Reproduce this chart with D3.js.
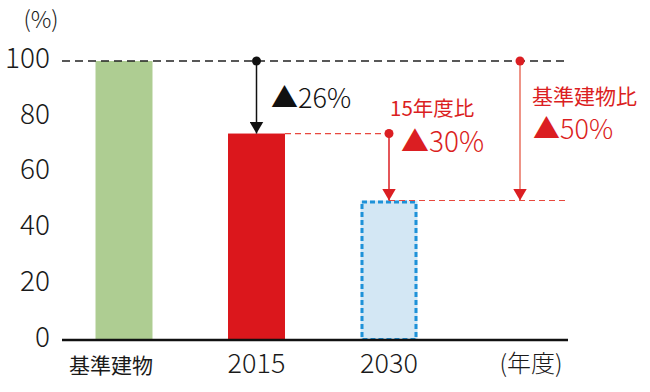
<!DOCTYPE html>
<html><head><meta charset="utf-8">
<script src="https://cdn.jsdelivr.net/npm/d3@7"></script>
<style>body{margin:0;background:#fff}svg{display:block}text{font-family:"Noto Sans CJK JP","Noto Sans",sans-serif;font-weight:300}text.cjk{font-weight:400}</style>
</head><body><svg id="c" width="650" height="392"></svg>
<script>
const categories = ["基準建物", "2015", "2030"];
const values = [100, 74, 50];
const yTicks = [0, 20, 40, 60, 80, 100];
const yUnit = "(%)";
const xUnit = "(年度)";
const ann26 = "▲26%";
const ann15a = "15年度比", ann15b = "▲30%";
const annBa = "基準建物比", annBb = "▲50%";

const svg = d3.select("#c");
const y = d3.scaleLinear().domain([0, 100]).range([340, 61]);
const x = d3.scaleBand().domain(categories).range([57.75, 455.25]).paddingInner(0.57).paddingOuter(0.285);
const cx = c => x(c) + x.bandwidth() / 2;
const red = "#db1e22", redL = "#e8483e";

const defs = svg.append("defs");
function marker(id, col) {
  defs.append("marker").attr("id", id).attr("viewBox", "0 0 14 12").attr("refX", 7).attr("refY", 12)
    .attr("markerWidth", 14).attr("markerHeight", 12).attr("markerUnits", "userSpaceOnUse").attr("orient", "0")
    .append("path").attr("d", "M0,0L14,0L7,12Z").attr("fill", col);
}
marker("ab", "#111"); marker("ar", red);

// y tick labels
svg.append("g").selectAll("text").data(yTicks).join("text")
  .attr("x", 50).attr("y", d => y(d)).attr("dy", "0.24em").attr("text-anchor", "end")
  .attr("font-size", 28).attr("fill", "#1a1a1a").text(d => d);
svg.append("text").attr("x", 41).attr("y", 28).attr("text-anchor", "middle").attr("font-size", 23).attr("fill", "#1a1a1a").text(yUnit);

// bars
const fills = ["#aecd92", "#db171c", "#d3e7f4"];
svg.append("g").selectAll("rect").data(values).join("rect")
  .attr("x", (d, i) => x(categories[i])).attr("width", x.bandwidth())
  .attr("y", d => y(d)).attr("height", d => y(0) - y(d))
  .attr("fill", (d, i) => fills[i]);
// dashed border for 2030
svg.append("rect").attr("x", x("2030") + 1.5).attr("y", y(values[2]) + 1.5)
  .attr("width", x.bandwidth() - 3).attr("height", y(0) - y(values[2]) - 2)
  .attr("fill", "none").attr("stroke", "#1e92d8").attr("stroke-width", 3).attr("stroke-dasharray", "5,3");

// reference lines
svg.append("line").attr("x1", 62).attr("x2", 568).attr("y1", y(100)).attr("y2", y(100))
  .attr("stroke", "#222").attr("stroke-width", 1.3).attr("stroke-dasharray", "8,5");
svg.append("line").attr("x1", x("2015") + x.bandwidth()).attr("x2", cx("2030")).attr("y1", y(values[1])).attr("y2", y(values[1]))
  .attr("stroke", redL).attr("stroke-width", 1.2).attr("stroke-dasharray", "6,4");
svg.append("line").attr("x1", cx("2030")).attr("x2", 568).attr("y1", y(values[2])).attr("y2", y(values[2]))
  .attr("stroke", redL).attr("stroke-width", 1.2).attr("stroke-dasharray", "6,4");

// baseline
svg.append("line").attr("x1", 62).attr("x2", 568).attr("y1", y(0)).attr("y2", y(0)).attr("stroke", "#111").attr("stroke-width", 2.5);

// arrows
function arrow(xp, y0, y1, col, mk, lw) {
  svg.append("line").attr("x1", xp).attr("x2", xp).attr("y1", y0).attr("y2", y1)
    .attr("stroke", col).attr("stroke-width", lw).attr("marker-end", `url(#${mk})`);
  svg.append("circle").attr("cx", xp).attr("cy", y0).attr("r", 4.5).attr("fill", mk === "ab" ? "#111" : red);
}
arrow(cx("2015"), y(100), y(values[1]), "#111", "ab", 1.5);
arrow(cx("2030"), y(values[1]), y(values[2]), red, "ar", 1.5);
const xb = cx("2030") + x.step() - 1.5;
arrow(xb, y(100), y(values[2]), "#e8705f", "ar", 1.5);

// annotation texts
svg.append("text").attr("x", 271).attr("y", 108).attr("font-size", 27).attr("fill", "#111").text(ann26);
svg.append("text").attr("class", "cjk").attr("x", 390).attr("y", 116).attr("font-size", 20.5).attr("fill", red).text(ann15a);
svg.append("text").attr("x", 401).attr("y", 152).attr("font-size", 28).attr("fill", red).text(ann15b);
svg.append("text").attr("class", "cjk").attr("x", 532).attr("y", 104).attr("font-size", 21).attr("fill", red).text(annBa);
svg.append("text").attr("x", 533).attr("y", 139).attr("font-size", 27).attr("fill", red).text(annBb);

// x labels
svg.append("g").selectAll("text").data(categories).join("text")
  .attr("class", (d, i) => i === 0 ? "cjk" : null)
  .attr("x", (d, i) => cx(d) - (i === 0 ? 13 : 0)).attr("y", 373).attr("text-anchor", "middle")
  .attr("font-size", (d, i) => i === 0 ? 21 : 27).attr("fill", "#1a1a1a").text(d => d);
svg.append("text").attr("x", 531).attr("y", 372).attr("text-anchor", "middle").attr("font-size", 24).attr("fill", "#1a1a1a").text(xUnit);
</script></body></html>
